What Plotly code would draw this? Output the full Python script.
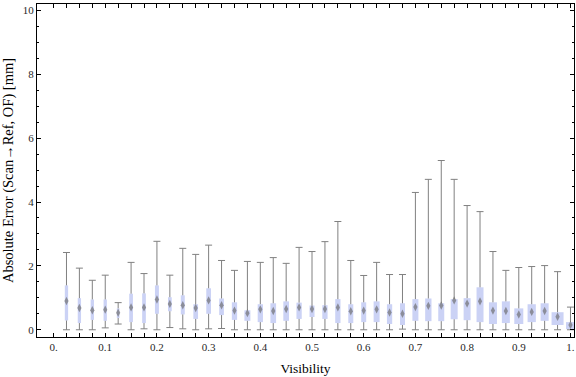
import plotly.graph_objects as go

# ---- data ----
visibility = [0.025, 0.05, 0.075, 0.1, 0.125, 0.15, 0.175, 0.2, 0.225, 0.25,
              0.275, 0.3, 0.325, 0.35, 0.375, 0.4, 0.425, 0.45, 0.475, 0.5,
              0.525, 0.55, 0.575, 0.6, 0.625, 0.65, 0.675, 0.7, 0.725, 0.75,
              0.775, 0.8, 0.825, 0.85, 0.875, 0.9, 0.925, 0.95, 0.975, 1.0]

err_min = [0.0, 0.0, 0.0, 0.06, 0.18, 0.0, 0.03, 0.0, 0.07, 0.03,
           0.0, 0.03, 0.04, 0.0, 0.0, 0.0, 0.0, 0.0, 0.0, 0.0,
           0.0, 0.0, 0.0, 0.0, 0.0, 0.0, 0.02, 0.0, 0.0, 0.0,
           0.0, 0.0, 0.0, 0.0, 0.0, 0.0, 0.0, 0.0, 0.0, 0.0]

err_q1 = [0.29, 0.21, 0.31, 0.28, 0.37, 0.24, 0.21, 0.50, 0.58, 0.48,
          0.34, 0.50, 0.46, 0.31, 0.28, 0.24, 0.21, 0.28, 0.34, 0.40,
          0.34, 0.21, 0.21, 0.24, 0.24, 0.18, 0.15, 0.28, 0.27, 0.27,
          0.33, 0.30, 0.24, 0.18, 0.21, 0.18, 0.24, 0.28, 0.15, 0.02]

err_median = [0.90, 0.68, 0.61, 0.63, 0.53, 0.70, 0.70, 0.95, 0.81, 0.77,
              0.68, 0.92, 0.77, 0.60, 0.52, 0.64, 0.59, 0.65, 0.70, 0.65,
              0.65, 0.70, 0.58, 0.60, 0.64, 0.54, 0.50, 0.71, 0.75, 0.76,
              0.92, 0.82, 0.89, 0.60, 0.59, 0.48, 0.56, 0.59, 0.41, 0.15]

err_q3 = [1.39, 0.99, 0.95, 0.95, 0.67, 1.13, 1.14, 1.39, 1.02, 1.08,
          0.80, 1.30, 0.98, 0.86, 0.61, 0.80, 0.83, 0.89, 0.85, 0.76,
          0.77, 0.96, 0.80, 0.86, 0.89, 0.80, 0.83, 0.96, 0.98, 0.83,
          0.96, 0.99, 1.33, 0.86, 0.89, 0.67, 0.80, 0.83, 0.55, 0.24]

err_max = [2.42, 1.93, 1.55, 1.71, 0.85, 2.11, 1.76, 2.77, 1.71, 2.55,
           2.36, 2.65, 2.17, 1.86, 2.14, 2.11, 2.26, 2.08, 2.58, 2.45,
           2.76, 3.39, 2.17, 1.70, 2.11, 1.73, 1.73, 4.30, 4.71, 5.30,
           4.71, 3.89, 3.70, 2.45, 1.86, 1.95, 1.98, 2.01, 1.82, 0.71]

# box widths (x-axis units), as drawn in the reference
box_width = [0.0064, 0.0064, 0.0064, 0.0064, 0.0052, 0.0072, 0.0072, 0.0077, 0.0072, 0.0077,
             0.0091, 0.0091, 0.0091, 0.0102, 0.0116, 0.0102, 0.0110, 0.0110, 0.0102, 0.0097,
             0.0102, 0.0102, 0.0097, 0.0097, 0.0116, 0.0102, 0.0097, 0.0116, 0.0122, 0.0116,
             0.0135, 0.0135, 0.0135, 0.0155, 0.0155, 0.0174, 0.0160, 0.0155, 0.0232, 0.0174]

x_tick_vals = [0.0, 0.025, 0.05, 0.075, 0.1, 0.125, 0.15, 0.175, 0.2, 0.225, 0.25, 0.275,
               0.3, 0.325, 0.35, 0.375, 0.4, 0.425, 0.45, 0.475, 0.5, 0.525, 0.55, 0.575,
               0.6, 0.625, 0.65, 0.675, 0.7, 0.725, 0.75, 0.775, 0.8, 0.825, 0.85, 0.875,
               0.9, 0.925, 0.95, 0.975, 1.0]
x_tick_text = ["0.", "", "", "", "0.1", "", "", "", "0.2", "", "", "",
               "0.3", "", "", "", "0.4", "", "", "", "0.5", "", "", "",
               "0.6", "", "", "", "0.7", "", "", "", "0.8", "", "", "",
               "0.9", "", "", "", "1."]
y_tick_vals = [0, 2, 4, 6, 8, 10]
y_tick_text = ["0", "2", "4", "6", "8", "10"]

# ---- styles ----
BOX_COLOR = "rgb(203,210,245)"
WHISKER_COLOR = "rgb(128,128,128)"
MEDIAN_COLOR = "rgba(105,105,105,0.65)"
FONT = "Liberation Serif, Times New Roman, serif"
TEXT_COLOR = "rgb(40,40,40)"

# whisker segments (outside the boxes)
wx, wy = [], []
for xv, lo, a, b, hi in zip(visibility, err_min, err_q1, err_q3, err_max):
    wx += [xv, xv, None, xv, xv, None]
    wy += [lo, a, None, b, hi, None]

fig = go.Figure()

fig.add_trace(go.Bar(
    x=visibility,
    y=[b - a for a, b in zip(err_q1, err_q3)],
    base=err_q1,
    width=box_width,
    marker=dict(color=BOX_COLOR, line=dict(width=0)),
    hoverinfo="skip",
))

fig.add_trace(go.Scatter(
    x=wx, y=wy, mode="lines",
    line=dict(color=WHISKER_COLOR, width=1),
    hoverinfo="skip",
))

fig.add_trace(go.Scatter(
    x=visibility + visibility,
    y=err_min + err_max,
    mode="markers",
    marker=dict(symbol="line-ew", size=5, line=dict(color=WHISKER_COLOR, width=1)),
    hoverinfo="skip",
))

fig.add_trace(go.Scatter(
    x=visibility, y=err_median, mode="markers",
    marker=dict(symbol="diamond-tall", size=6, color=MEDIAN_COLOR, line=dict(width=0)),
))

fig.update_layout(
    width=576, height=377,
    margin=dict(l=36.5, r=2, t=4, b=40.3, autoexpand=False),
    paper_bgcolor="white", plot_bgcolor="white",
    showlegend=False,
    font=dict(family=FONT, size=11, color=TEXT_COLOR),
)

fig.update_xaxes(
    automargin=False,
    range=[-0.032, 1.0068],
    tickmode="array", tickvals=x_tick_vals, ticktext=x_tick_text,
    ticks="inside", ticklen=4, tickwidth=1, tickcolor="black",
    showline=True, linecolor="black", linewidth=1, mirror="ticks",
    showgrid=False, zeroline=False,
    tickfont=dict(family=FONT, size=11, color=TEXT_COLOR),
    title=dict(text="Visibility", font=dict(family=FONT, size=13.5, color="black"), standoff=11),
)

fig.update_yaxes(
    automargin=False,
    range=[-0.226, 10.2],
    tickmode="array", tickvals=y_tick_vals, ticktext=y_tick_text,
    ticks="inside", ticklen=4, tickwidth=1, tickcolor="black",
    minor=dict(dtick=0.5, tick0=0, ticks="inside", ticklen=2, tickwidth=1, tickcolor="black", showgrid=False),
    showline=True, linecolor="black", linewidth=1, mirror="ticks",
    showgrid=False, zeroline=False,
    tickfont=dict(family=FONT, size=11, color=TEXT_COLOR),
    title=dict(text="Absolute Error (Scan\u2192Ref, OF) [mm]",
               font=dict(family=FONT, size=14.5, color="black"), standoff=6),
)

fig.write_html("out.html", config={"displayModeBar": False},
               post_script="document.body.style.margin='0px';")
